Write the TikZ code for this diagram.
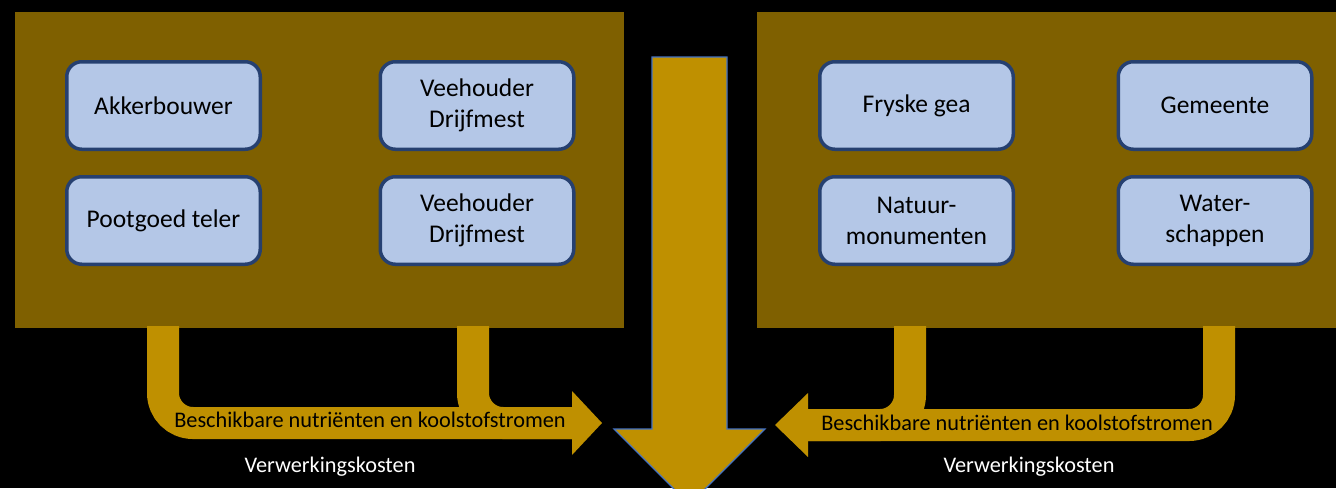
\documentclass[tikz,border=0pt]{standalone}
\usepackage{fontspec}
\setmainfont{Carlito}
\usepackage{tikz}
\usetikzlibrary{positioning}
\definecolor{panelbrown}{HTML}{7F6000}
\definecolor{flowgold}{HTML}{BF9000}
\definecolor{actorfill}{HTML}{B4C7E7}
\definecolor{actorline}{HTML}{264070}
\definecolor{arrowline}{HTML}{4472C4}

\begin{document}
\begin{tikzpicture}[x=1pt,y=-1pt]
\tikzset{panel/.style = {fill=panelbrown, inner sep=0pt},
         actor/.style = {draw=actorline, line width=3.5pt, fill=actorfill, rounded corners=15pt,
                         minimum width=193.5pt, minimum height=87.5pt, align=center,
                         font=\fontsize{25.5}{31}\selectfont},
         flow/.style = {draw=flowgold, line width=32pt, rounded corners=30pt},
         flowtext/.style = {font=\fontsize{22.3}{26}\selectfont}}
\fill[black] (0,0) rectangle (1336,488);
\useasboundingbox (0,0) rectangle (1336,488);
            % panels
	\node[panel, minimum width=609pt, minimum height=316pt] (farmers) at (319.5,170) {};
	\node[panel, minimum width=579pt, minimum height=316pt] (owners) at (1046.5,170) {};
            % vertices
	\node[actor] (akker) at (163.5,105.5) {Akkerbouwer};
	\node[actor] (vee1) at (477,105.5) {Veehouder\\Drijfmest};
	\node[actor] (poot) at (163.5,220.5) {Pootgoed teler};
	\node[actor] (vee2) at (477,220.5) {Veehouder\\Drijfmest};
	\node[actor] (fryske) at (916.5,105.5) {Fryske gea};
	\node[actor] (gem) at (1215,105.5) {Gemeente};
	\node[actor] (natuur) at (916.5,220.5) {Natuur-\\monumenten};
	\node[actor] (water) at (1215,220.5) {Water-\\schappen};
            % flows
	\coordinate (l1) at (163,326);
	\coordinate (l2) at (473,326);
	\coordinate (lend) at (572,423);
	\draw[flow] (l1) |- (lend);
	\draw[flow] (l2) |- (lend);
	\fill[flowgold] (572,391) -- (602,423) -- (572,455) -- cycle;
	\coordinate (r1) at (910,326);
	\coordinate (r2) at (1219,326);
	\coordinate (rend) at (808,425);
	\draw[flow] (r2) |- (rend);
	\draw[flow] (r1) |- (rend);
	\fill[flowgold] (808,393) -- (775,425) -- (808,457) -- cycle;
	\filldraw[fill=flowgold, draw=arrowline, line width=1.2pt]
	  (652,57) -- (727,57) -- (727,429) -- (765,429) -- (689.5,504.5)
	  -- (614,429) -- (652,429) -- cycle;
            % labels
	\node[flowtext] (lflow) at (370,420) {Beschikbare nutriënten en koolstofstromen};
	\node[flowtext, text=white] (lcost) at (330,467) {Verwerkingskosten};
	\node[flowtext] (rflow) at (1017,423) {Beschikbare nutriënten en koolstofstromen};
	\node[flowtext, text=white] (rcost) at (1029,467) {Verwerkingskosten};
\end{tikzpicture}
\end{document}
